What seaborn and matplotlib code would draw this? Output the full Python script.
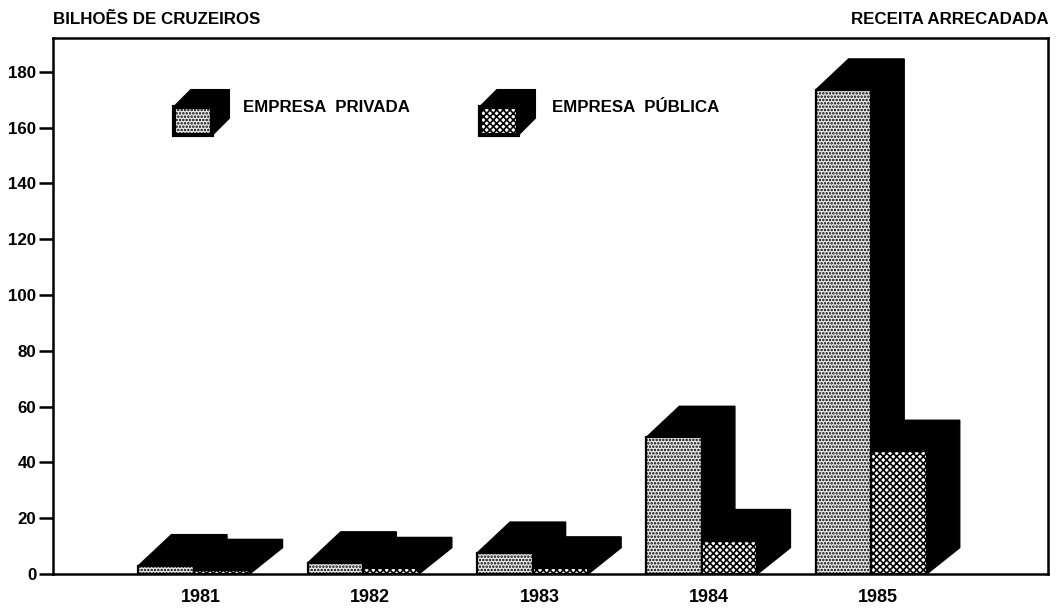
import numpy as np
import pandas as pd
import seaborn as sns
import matplotlib
matplotlib.use("Agg")
import matplotlib.pyplot as plt
from matplotlib.patches import Polygon
from matplotlib.transforms import ScaledTranslation

years = ["1981", "1982", "1983", "1984", "1985"]
privada = [3, 4, 7.5, 49, 173.5]
publica = [1.3, 2, 2.2, 12, 44]
series_names = ["EMPRESA PRIVADA", "EMPRESA PÚBLICA"]
yticks = list(range(0, 181, 20))

sns.set_theme(style="white")
plt.rcParams["font.family"] = ["Liberation Sans", "DejaVu Sans"]
plt.rcParams["hatch.linewidth"] = 1.2

W, H = 1064, 611
fig = plt.figure(figsize=(W / 100, H / 100), dpi=100, facecolor="white")
L, R, T, B = 53, 1048, 38, 574
ax = fig.add_axes([L / W, 1 - B / H, (R - L) / W, (B - T) / H])

df = pd.DataFrame({
    "year": years * 2,
    "valor": privada + publica,
    "tipo": [series_names[0]] * 5 + [series_names[1]] * 5,
})
sns.barplot(data=df, x="year", y="valor", hue="tipo", dodge=True, width=0.656, gap=0,
            palette=["#ececec", "white"], legend=False, saturation=1,
            edgecolor="black", linewidth=1.6, ax=ax, zorder=5)

PX_PER_CAT = 169.3
ax.set_ylim(0, (B - T) / 2.79)
xleft = -(194 - L) / PX_PER_CAT
ax.set_xlim(xleft, xleft + (R - L) / PX_PER_CAT)

DX_PX, DY_PX = 33, 31
dx = DX_PX / PX_PER_CAT
dy = DY_PX / 2.79

hatches = [".....", "xxxxx"]
for cont, hatch in zip(ax.containers, hatches):
    for bar in cont:
        x0, w, h = bar.get_x(), bar.get_width(), bar.get_height()
        bar.set_hatch(hatch)
        ax.add_patch(Polygon(
            [(x0, 0), (x0, h), (x0 + dx, h + dy), (x0 + w + dx, h + dy),
             (x0 + w + dx, dy * 0.85), (x0 + w, 0)],
            closed=True, fc="black", ec="black", lw=1, zorder=2, clip_on=False))

ax.set_yticks(yticks)
ax.set_yticklabels([str(v) for v in yticks])
ax.set_xlabel("")
ax.set_ylabel("")
ax.tick_params(axis="y", length=10, width=1.8, color="black", pad=2,
               labelsize=12.2, labelcolor="black", left=True)
ax.tick_params(axis="x", length=0, pad=11, labelsize=13, labelcolor="black")
for lab in ax.get_yticklabels():
    lab.set_fontweight("bold")
for lab in ax.get_xticklabels():
    lab.set_fontweight("bold")
    lab.set_transform(lab.get_transform() + ScaledTranslation(7 / 100, 0, fig.dpi_scale_trans))
for s in ax.spines.values():
    s.set_color("black")
    s.set_linewidth(1.8)

def px(x, y):
    return (x, H - y)

def swatch(x0, y0, w, h, d, color, hatch):
    back = Polygon([px(x0, y0 + h), px(x0, y0), px(x0 + d, y0 - d), px(x0 + w + d, y0 - d),
                    px(x0 + w + d, y0 + h - d), px(x0 + w, y0 + h)],
                   closed=True, fc="black", ec="black", lw=1.5, transform=None)
    face = Polygon([px(x0, y0), px(x0 + w, y0), px(x0 + w, y0 + h), px(x0, y0 + h)],
                   closed=True, fc=color, ec="black", lw=3, hatch=hatch, transform=None)
    fig.add_artist(back)
    fig.add_artist(face)

swatch(174, 107, 38, 28, 17, "#ececec", ".....")
swatch(480, 107, 38, 28, 17, "white", "xxxxx")

def label(x, y, s, ha="left"):
    fig.text(x / W, 1 - y / H, s, ha=ha, va="center", fontsize=12.2,
             fontweight="bold", color="black")

label(243, 107, "EMPRESA  PRIVADA")
label(552, 107, "EMPRESA  PÚBLICA")
label(53, 20, "BILHOẼS DE CRUZEIROS")
label(1049, 20, "RECEITA ARRECADADA", ha="right")

fig.savefig("out.png", dpi=100)
